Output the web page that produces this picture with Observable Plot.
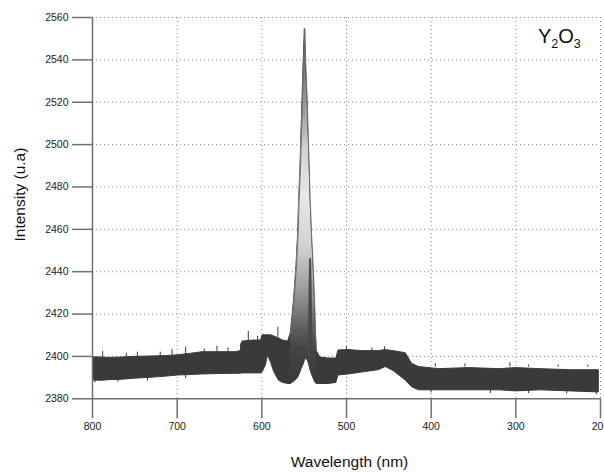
<!DOCTYPE html>
<html><head><meta charset="utf-8">
<script src="https://cdn.jsdelivr.net/npm/d3@7"></script>
<script src="https://cdn.jsdelivr.net/npm/@observablehq/plot@0.6"></script>
<style>
body{margin:0;background:#fff;}
#wrap{position:relative;width:604px;height:473px;font-family:"Liberation Sans",Arial,sans-serif;}
#label{position:absolute;left:538px;top:26px;font-size:20px;color:#111;line-height:1;}
#label sub{font-size:12.5px;vertical-align:-5px;line-height:0;}
</style></head><body>
<div id="wrap"><div id="label">Y<sub>2</sub>O<sub>3</sub></div></div>
<script>
// Spectrum envelope: wavelength (nm), lower and upper edge of the noisy trace
const wavelength = [799,790,780,765,750,728,712,699,685,670,650,631,625,623,610,601,599,595,593,589,585.7,580,575,569,
  565.8,562,559.2,557.1,556,554.4,553.2,552,550.8,549.2,548,546.4,545.2,544,542.9,541.3,539.3,537.7,536.5,535.4,
  531,521.4,512,509.5,497.6,480,462,453.6,444,430,422.6,414.3,390.5,355,319,300,271,235,202];
const lower = [2388.6,2388.5,2388.8,2389,2389.5,2390,2390.5,2391,2391.2,2391.5,2391.7,2391.8,2391.8,2392,2392,2392,2392.5,2396,2400.4,2397,2393,2388.6,2387.5,2387,
  2387,2388,2389,2390,2391,2392.5,2394,2395,2396,2398,2399,2398.5,2397.5,2396,2394,2392,2390,2388.5,2387.5,2387,
  2387,2387,2387.5,2391,2391.5,2392.5,2393.5,2395,2393,2388.6,2385.5,2384,2384,2384,2384,2383.5,2384,2383.5,2383];
const upper = [2399.6,2399.5,2399.3,2399.5,2399.8,2400,2400.2,2400.5,2401.2,2402,2402,2402,2402.5,2407,2407.5,2407.5,2410,2410,2410,2410,2409.5,2408.5,2407.5,2407,
  2410.8,2426.4,2442,2458,2473.6,2489,2505,2520.8,2536.5,2554.6,2536.5,2520.8,2505,2489,2473.6,2458,2442,2426.4,2410.8,2402.8,
  2399.5,2399,2399,2402.8,2403,2402.5,2402.5,2403,2402.5,2401.5,2396.5,2395,2394,2394.5,2394,2394.5,2394,2393.5,2393.5];

// Visible noise spikes
const spikeUpNm = [788,760,747,720,706,690,668,653,640,625,616,605,581,500,470,455,395,360,307,285,250,215];
const spikeUpVal = [2402.3,2401.5,2402,2402,2403.3,2404.4,2403.5,2404.8,2404,2406,2411.8,2409.5,2413.8,2404.5,2404,2404.5,2396.5,2396.5,2397,2396,2396,2396];
const spikeDnNm = [797,770,735,690,400,330,285,240,205];
const spikeDnVal = [2387.5,2387.8,2388.5,2389.5,2382.8,2382.5,2382.5,2382.3,2382];

// Dark strand on the right flank of the peak
const strandNm = [544.6,543.8,543,542.2,541.4];
const strandVal = [2400,2425,2446,2428,2404];

const xTicks = [800,700,600,500,400,300,200];
const yTicks = [2380,2400,2420,2440,2460,2480,2500,2520,2540,2560];

const band = wavelength.map((w,i)=>({w, lo: lower[i], hi: upper[i]}));
const peak = band.filter(d => d.w <= 566 && d.w >= 535);
const spikesUp = spikeUpNm.map((w,i)=>({w, v: spikeUpVal[i]}));
const spikesDn = spikeDnNm.map((w,i)=>({w, v: spikeDnVal[i]}));
const strand = strandNm.map((w,i)=>({w, v: strandVal[i]}));

const gradStops = [[0,"#5a5a5a"],[0.12,"#7a7a7a"],[0.24,"#a2a2a2"],[0.34,"#d2d2d2"],[0.47,"#e8e8e8"],[0.62,"#d0d0d0"],[0.74,"#9a9a9a"],[0.83,"#666"],[0.9,"#444"],[1,"#3a3a3a"]];
const defs = () => {
  const s = d3.create("svg:defs");
  const g = s.append("linearGradient").attr("id","peakGrad").attr("x1",0).attr("y1",0).attr("x2",0).attr("y2",1);
  gradStops.forEach(([o,c]) => g.append("stop").attr("offset",o).attr("stop-color",c));
  return s.node();
};

const axisColor = "#707070";
const chart = Plot.plot({
  width: 604, height: 473,
  marginLeft: 92, marginRight: 4, marginTop: 17, marginBottom: 74.7,
  style: {fontFamily: '"Liberation Sans", Arial, sans-serif', background: "#fff"},
  x: {domain: [800, 200]},
  y: {domain: [2380, 2560]},
  marks: [
    defs,
    Plot.gridX(xTicks.slice(1), {stroke: "#8a8a8a", strokeOpacity: 1, strokeDasharray: "1,3"}),
    Plot.gridY(yTicks.slice(1), {stroke: "#8a8a8a", strokeOpacity: 1, strokeDasharray: "1,3"}),
    Plot.ruleX(spikesUp, {x: "w", y1: 2395, y2: "v", stroke: "#3a3a3a", strokeWidth: 1}),
    Plot.ruleX(spikesDn, {x: "w", y1: 2392, y2: "v", stroke: "#3a3a3a", strokeWidth: 1}),
    Plot.areaY(band, {x: "w", y1: "lo", y2: "hi", fill: "#3a3a3a", stroke: "#3a3a3a", strokeWidth: 1}),
    Plot.areaY(peak, {x: "w", y1: "lo", y2: "hi", fill: "url(#peakGrad)"}),
    Plot.lineY(peak, {x: "w", y: "hi", stroke: "#6a6a6a", strokeWidth: 1}),
    Plot.lineY(strand, {x: "w", y: "v", stroke: "#4a4a4a", strokeWidth: 2}),
    Plot.axisX(xTicks, {tickSize: 20, tickPadding: 4, fontSize: 10.5, label: null, tickFormat: d => String(d), stroke: axisColor, strokeWidth: 1.5, fill: "#1a1a1a"}),
    Plot.axisY(yTicks, {tickSize: 20, tickPadding: 4, fontSize: 10.5, label: null, tickFormat: d => String(d), stroke: axisColor, strokeWidth: 1.5, fill: "#1a1a1a"}),
    Plot.ruleX([800], {stroke: axisColor, strokeWidth: 1.5}),
    Plot.ruleY([2380], {stroke: axisColor, strokeWidth: 1.5}),
    Plot.text(["Wavelength (nm)"], {frameAnchor: "bottom", textAnchor: "middle", lineAnchor: "middle", dx: 3, dy: 63, fontSize: 15.5, fill: "#111"}),
    Plot.text(["Intensity (u.a)"], {frameAnchor: "left", textAnchor: "middle", lineAnchor: "middle", dx: -72, dy: -13.6, rotate: -90, fontSize: 15.5, fill: "#111"})
  ]
});
document.getElementById("wrap").prepend(chart);
</script>
</body></html>
